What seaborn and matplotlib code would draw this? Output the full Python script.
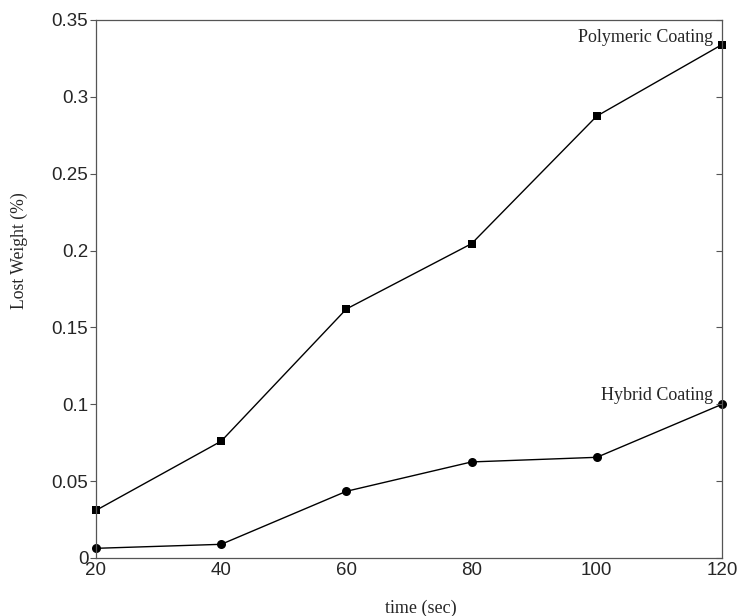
import matplotlib
matplotlib.use("Agg")
import matplotlib.pyplot as plt
import pandas as pd
import seaborn as sns

time_sec = [20, 40, 60, 80, 100, 120]
polymeric = [0.031, 0.076, 0.162, 0.2045, 0.2875, 0.334]
hybrid = [0.0063, 0.0089, 0.0434, 0.0625, 0.0655, 0.100]
y_ticks = [0, 0.05, 0.1, 0.15, 0.2, 0.25, 0.3, 0.35]
y_tick_labels = ["0", "0.05", "0.1", "0.15", "0.2", "0.25", "0.3", "0.35"]
x_ticks = [20, 40, 60, 80, 100, 120]

sns.set_style("ticks")
plt.rcParams["font.family"] = ["Liberation Sans", "DejaVu Sans"]

df = pd.DataFrame({"time": time_sec, "poly": polymeric, "hybrid": hybrid})

fig = plt.figure(figsize=(7.4, 6.16), dpi=100)
ax = fig.add_axes([96 / 740, 1 - 558 / 616, 626 / 740, 538 / 616])

sns.lineplot(data=df, x="time", y="poly", ax=ax, color="black", lw=1,
             marker="s", markersize=6, markeredgewidth=0, clip_on=False)
sns.lineplot(data=df, x="time", y="hybrid", ax=ax, color="black", lw=1,
             marker="o", markersize=6.5, markeredgewidth=0, clip_on=False)

ax.set_xlim(20, 120)
ax.set_ylim(0, 0.35)
ax.set_xticks(x_ticks)
ax.set_yticks(y_ticks)
ax.set_yticklabels(y_tick_labels)
ax.tick_params(axis="x", length=0, labelsize=13.5, pad=3)
ax.tick_params(axis="y", direction="out", length=4, width=0.8, labelsize=13.5,
               pad=1.5, color="#555555")

for s in ax.spines.values():
    s.set_color("#555555")
    s.set_linewidth(0.9)

# right-side inward ticks
ax2 = ax.twinx()
ax2.set_ylim(0, 0.35)
ax2.set_yticks(y_ticks)
ax2.tick_params(axis="y", direction="in", length=4, width=0.8,
                labelright=False, color="#555555")
for s in ax2.spines.values():
    s.set_visible(False)

serif = ["Liberation Serif", "DejaVu Serif"]
ax.set_xlabel("time (sec)", family=serif, fontsize=13)
ax.set_ylabel("Lost Weight (%)", family=serif, fontsize=12.7)
ax.xaxis.set_label_coords(0.519, -0.078)
ax.yaxis.set_label_coords(-0.108, 0.572)

ax.text(118.6, 0.3357, "Polymeric Coating", family=serif, fontsize=13,
        ha="right", va="baseline")
ax.text(118.6, 0.1028, "Hybrid Coating", family=serif, fontsize=13,
        ha="right", va="baseline")

fig.savefig("out.png", dpi=100)
